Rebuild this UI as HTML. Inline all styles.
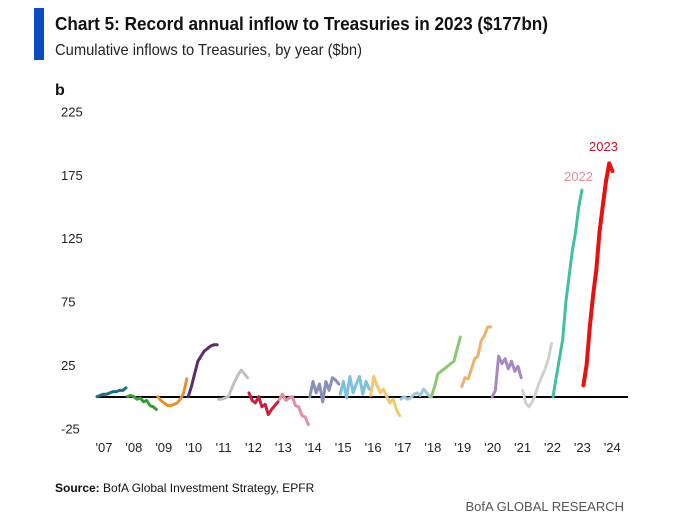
<!DOCTYPE html>
<html><head><meta charset="utf-8"><style>
body{margin:0;background:#fff;}
svg{display:block;font-family:"Liberation Sans",sans-serif;}
</style></head><body>
<svg id="chart" width="681" height="519" viewBox="0 0 681 519">
<rect x="34" y="8" width="10" height="52" fill="#0a4bc2"/>
<text x="55" y="30" font-size="18" font-weight="bold" fill="#111" textLength="493" lengthAdjust="spacingAndGlyphs">Chart 5: Record annual inflow to Treasuries in 2023 ($177bn)</text>
<text x="55" y="55" font-size="16" fill="#222" textLength="307" lengthAdjust="spacingAndGlyphs">Cumulative inflows to Treasuries, by year ($bn)</text>
<text x="55" y="95" font-size="16" font-weight="bold" fill="#111">b</text>
<g id="yaxis"></g>
<g id="xaxis"></g>
<line x1="96" y1="397" x2="628" y2="397" stroke="#000" stroke-width="2"/>
<g id="series"></g>
<text x="564" y="181" font-size="13" fill="#e0909c">2022</text>
<text x="589" y="151" font-size="13" fill="#d0102a">2023</text>
<text x="55" y="492" font-size="12" fill="#111"><tspan font-weight="bold">Source:</tspan>  BofA Global Investment Strategy, EPFR</text>
<text x="624" y="511" font-size="13" fill="#555" text-anchor="end">BofA GLOBAL RESEARCH</text>
</svg>
<script>
const yTicks=[225,175,125,75,25,-25];
const xTickLabels=["'07","'08","'09","'10","'11","'12","'13","'14","'15","'16","'17","'18","'19","'20","'21","'22","'23","'24"];
const years=[2007,2008,2009,2010,2011,2012,2013,2014,2015,2016,2017,2018,2019,2020,2021,2022,2023];
const v2007=[0,1,2,2,3,4,4,5,5,7];
const v2008=[0,1,0,-2,-1,-4,-3,-7,-8,-10];
const v2009=[0,-3,-5,-7,-7,-6,-5,-2,3,14];
const v2010=[0,8,18,28,32,36,38,40,41,41];
const v2011=[-2,-2,-1,0,6,12,17,21,18,15];
const v2012=[3,-3,-5,0,-8,-6,-14,-10,-7,-4];
const v2013=[-2,2,-3,-1,0,-7,-8,-15,-16,-22];
const v2014=[0,12,3,10,-4,12,5,15,13,10];
const v2015=[2,12,-1,16,3,10,16,2,12,6];
const v2016=[1,16,9,3,6,0,-5,-2,-10,-15];
const v2017=[-2,0,-2,-1,2,3,1,6,3,0];
const v2018=[0,8,18,20,22,24,26,28,38,47];
const v2019=[8,15,14,22,30,32,44,48,55,55];
const v2020=[0,5,32,26,30,22,28,20,24,15];
const v2021=[5,-5,-8,-4,2,10,16,22,30,42];
const v2022=[0,15,30,45,75,95,115,130,150,163];
const v2023=[9,25,55,80,100,130,150,170,184,178];
const seriesValues=[v2007,v2008,v2009,v2010,v2011,v2012,v2013,v2014,v2015,v2016,v2017,v2018,v2019,v2020,v2021,v2022,v2023];
const colors=["#1f6f7f","#3a9a3a","#e8902a","#5c2d6e","#c0c0c0","#c8203c","#e090a0","#8890b8","#7ec0e0","#f0c870","#a0c8d8","#88c870","#f0b070","#a888c0","#d0d0d0","#40c0a0","#e81010"];
const NS="http://www.w3.org/2000/svg";
function yScale(v){return 396.7-v*1.268;}
function xScale(t){return 97+(t-2007)*30.4;}
function xTickPos(i){return 104+i*29.9;}
const ya=document.getElementById('yaxis');
yTicks.forEach(t=>{const e=document.createElementNS(NS,'text');


e.setAttribute('x',61);e.setAttribute('y',yScale(t)+5);e.setAttribute('font-size','13');e.setAttribute('fill','#222');e.textContent=t;ya.appendChild(e);});
const xa=document.getElementById('xaxis');
xTickLabels.forEach((l,i)=>{const e=document.createElementNS(NS,'text');


e.setAttribute('x',xTickPos(i));e.setAttribute('y',452);e.setAttribute('font-size','13');e.setAttribute('fill','#222');e.setAttribute('text-anchor','middle');e.textContent=l;xa.appendChild(e);});
const sg=document.getElementById('series');
seriesValues.forEach((vals,i)=>{
 const x0=xScale(years[i]);const n=vals.length;
 const pts=vals.map((v,j)=>(x0+j*29/(n-1)).toFixed(1)+','+yScale(v).toFixed(1)).join(' ');
 const p=document.createElementNS(NS,'polyline');
 
 
 p.setAttribute('points',pts);p.setAttribute('fill','none');p.setAttribute('stroke',colors[i]);
 p.setAttribute('stroke-width',i===16?4:3);p.setAttribute('stroke-linejoin','round');p.setAttribute('stroke-linecap','round');
 sg.appendChild(p);});
</script>
</body></html>
